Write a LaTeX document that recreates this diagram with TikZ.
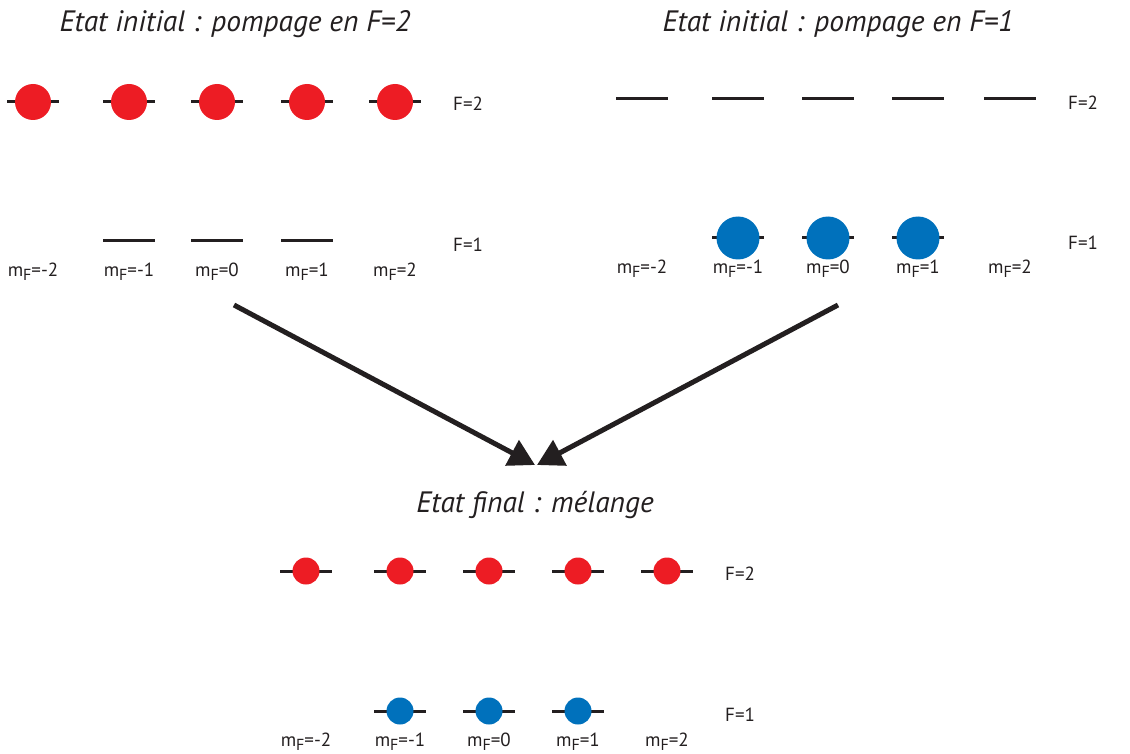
\documentclass[tikz,border=0pt]{standalone}
\usepackage{fontspec}
\setmainfont{PT Sans}
\usetikzlibrary{arrows.meta}
\definecolor{atomred}{RGB}{237,28,36}
\definecolor{atomblue}{RGB}{0,113,188}
\definecolor{ink}{RGB}{35,31,32}
\newcommand{\mFlab}[1]{m\raisebox{-0.45ex}{\fontsize{16}{16}\selectfont F}=#1}
\begin{document}
\begin{tikzpicture}[x=1pt,y=-1pt,
  levelline/.style={line width=3pt, draw=ink},
  atomred/.style={circle, fill=atomred, inner sep=0pt, minimum size=#1},
  atomblue/.style={circle, fill=atomblue, inner sep=0pt, minimum size=#1},
  titletext/.style={font=\fontsize{29.5}{31}\selectfont\itshape, text=ink, anchor=base, inner sep=0pt},
  smalllab/.style={font=\fontsize{19}{20}\selectfont, text=ink, inner sep=0pt},
  flab/.style={smalllab, anchor=west},
  bigarrow/.style={line width=5pt, draw=ink, -{Triangle[length=26pt,width=28pt]}}]
\useasboundingbox (0,0) rectangle (1130,754);

% ---------- titles
\node[titletext] (t1) at (235,32) {Etat initial : pompage en F=2};
\node[titletext] (t2) at (838,32) {Etat initial : pompage en F=1};
\node[titletext] (t3) at (535,512) {Etat final : mélange};

% ---------- top-left panel
\foreach \x/\m [count=\i] in {33/-2,129/-1,217/0,307/1,395/2}{
  \draw[levelline] (\x-26,102) -- (\x+26,102);
  \node[atomred=36pt] (tlr\i) at (\x,102) {};
  \node[smalllab] (tlm\i) at (\x,272) {\mFlab{\m}};
}
\foreach \x [count=\i] in {129,217,307}{
  \draw[levelline] (\x-26,241) -- (\x+26,241);
}
\node[flab] (tlF2) at (453,104) {F=2};
\node[flab] (tlF1) at (453,245) {F=1};

% ---------- top-right panel
\foreach \x/\m [count=\i] in {642/-2,738/-1,828/0,918/1,1010/2}{
  \draw[levelline] (\x-26,99) -- (\x+26,99);
  \node[smalllab] (trm\i) at (\x,269) {\mFlab{\m}};
}
\foreach \x [count=\i] in {738,828,918}{
  \draw[levelline] (\x-26,238) -- (\x+26,238);
  \node[atomblue=43pt] (trb\i) at (\x,238) {};
}
\node[flab] (trF2) at (1068,103) {F=2};
\node[flab] (trF1) at (1068,243) {F=1};

% ---------- arrows
\coordinate (la) at (234,305);
\coordinate (lb) at (535,465);
\coordinate (ra) at (838,305);
\coordinate (rb) at (537,465);
\draw[bigarrow] (la) -- (lb);
\draw[bigarrow] (ra) -- (rb);

% ---------- bottom panel
\foreach \x/\m [count=\i] in {306/-2,400/-1,489/0,578/1,667/2}{
  \draw[levelline] (\x-26,571) -- (\x+26,571);
  \node[atomred=27pt] (br\i) at (\x,571) {};
  \node[smalllab] (bm\i) at (\x,742) {\mFlab{\m}};
}
\foreach \x [count=\i] in {400,489,578}{
  \draw[levelline] (\x-26,711) -- (\x+26,711);
  \node[atomblue=27pt] (bb\i) at (\x,711) {};
}
\node[flab] (bF2) at (725,574) {F=2};
\node[flab] (bF1) at (725,715) {F=1};
\end{tikzpicture}
\end{document}
